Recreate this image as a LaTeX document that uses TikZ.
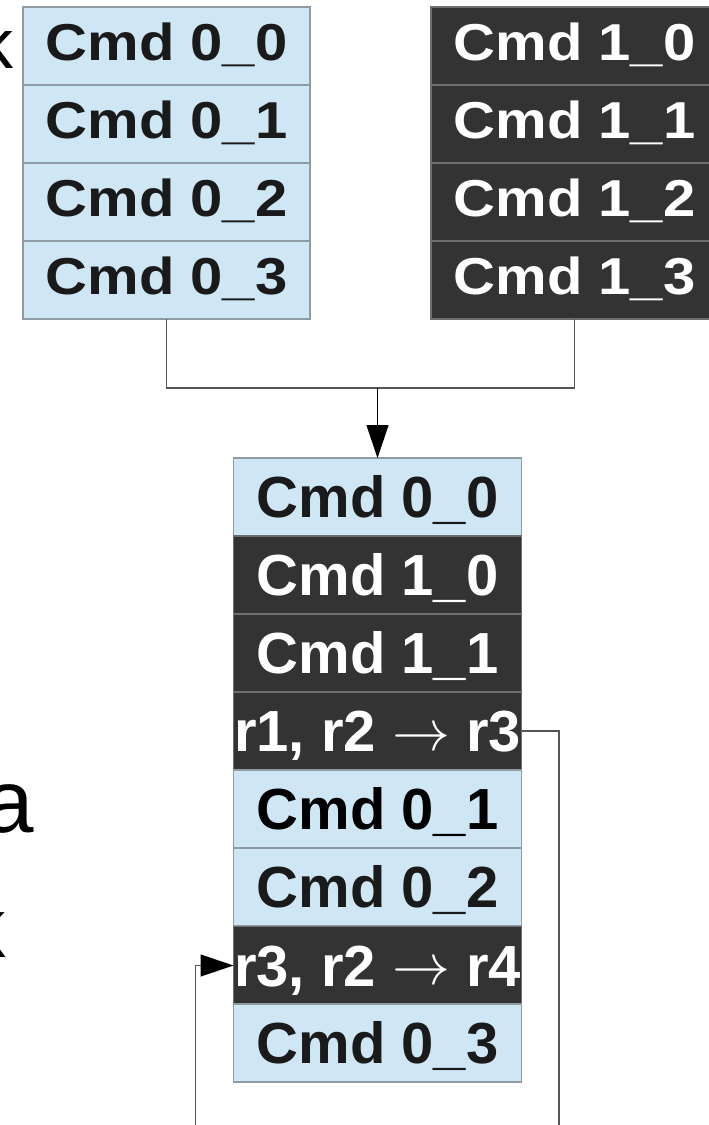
\RequirePackage{fix-cm}
\documentclass[tikz,border=0pt]{standalone}
\usepackage{fontspec}
\setmainfont{Liberation Sans}
\usetikzlibrary{arrows.meta}
\definecolor{lightrow}{HTML}{CFE6F4}
\definecolor{darkrow}{HTML}{333333}
\definecolor{lightedge}{HTML}{8F9BA5}
\definecolor{darkedge}{HTML}{6E6E6E}
\definecolor{inktext}{HTML}{1A1A1A}
\definecolor{wire}{HTML}{555555}
\tikzset{
  toprow/.style={minimum width=215.25pt, minimum height=58.5pt, inner sep=0pt, outer sep=0pt,
    font=\fontsize{43.5pt}{50pt}\selectfont\bfseries, text height=21pt, text depth=0pt},
  midrow/.style={minimum width=216pt, minimum height=58.5pt, inner sep=0pt, outer sep=0pt,
    font=\fontsize{43.5pt}{50pt}\selectfont\bfseries, text height=31.1pt, text depth=0pt},
  lightcell/.style={fill=lightrow, draw=lightedge, line width=0.9pt, text=inktext},
  darkcell/.style={fill=darkrow, draw=darkedge, line width=0.9pt, text=white},
  wireline/.style={draw=wire, line width=0.9pt},
  tip/.style={-{Triangle[length=24.75pt, width=16.5pt, black]}},
  cutletter/.style={anchor=base east, inner sep=0pt, text=black}
}
\newcommand{\squash}[1]{\scalebox{1}[0.895]{#1}}
\newcommand{\thinarrow}{\raisebox{1pt}{$\rightarrow$}}
\begin{document}
\begin{tikzpicture}[x=0.75pt, y=-0.75pt]
\useasboundingbox (0,0) rectangle (709,1125);
\clip (0,0) rectangle (709,1125);
% left input list
\node[toprow, lightcell] (L0) at (166.5, 46)  {\squash{Cmd 0\_0}};
\node[toprow, lightcell] (L1) at (166.5, 124) {\squash{Cmd 0\_1}};
\node[toprow, lightcell] (L2) at (166.5, 202) {\squash{Cmd 0\_2}};
\node[toprow, lightcell] (L3) at (166.5, 280) {\squash{Cmd 0\_3}};
% right input list
\node[toprow, darkcell] (R0) at (574.5, 46)  {\squash{Cmd 1\_0}};
\node[toprow, darkcell] (R1) at (574.5, 124) {\squash{Cmd 1\_1}};
\node[toprow, darkcell] (R2) at (574.5, 202) {\squash{Cmd 1\_2}};
\node[toprow, darkcell] (R3) at (574.5, 280) {\squash{Cmd 1\_3}};
% merged list
\node[midrow, lightcell] (M0) at (377.5, 497)   {Cmd 0\_0};
\node[midrow, darkcell]  (M1) at (377.5, 575)   {Cmd 1\_0};
\node[midrow, darkcell]  (M2) at (377.5, 653)   {Cmd 1\_1};
\node[midrow, darkcell]  (M3) at (377.5, 731)   {r1, r2 \thinarrow{} r3};
\node[midrow, lightcell, text=black] (M4) at (377.5, 809) {Cmd 0\_1};
\node[midrow, lightcell] (M5) at (377.5, 887)   {Cmd 0\_2};
\node[midrow, darkcell]  (M6) at (377.5, 965.5) {r3, r2 \thinarrow{} r4};
\node[midrow, lightcell] (M7) at (377.5, 1043)  {Cmd 0\_3};
% letters cut by the left edge
\node[cutletter, font=\fontsize{52.5pt}{60pt}\selectfont] (cutk1) at (14, 68) {k};
\node[cutletter, font=\fontsize{66.75pt}{75pt}\selectfont] (cuta) at (34, 832.7) {a};
\node[cutletter, font=\fontsize{63.75pt}{72pt}\selectfont] (cutk2) at (6, 957) {k};
% connectors
\coordinate (j) at (377.5, 388);
\coordinate (endR) at (559, 1135);
\coordinate (endL) at (195.7, 1135);
\draw[wireline] (L3.south) -- (L3.south |- j) -- (R3.south |- j) -- (R3.south);
\draw[wireline, draw=black, tip] (j) -- (M0.north);
\draw[wireline] (M3.east) -- (endR |- M3.east) -- (endR);
\draw[wireline, tip] (endL) -- (endL |- M6.west) -- (M6.west);
\end{tikzpicture}
\end{document}
